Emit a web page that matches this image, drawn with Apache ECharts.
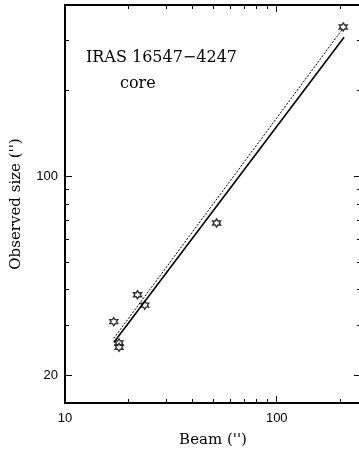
<!DOCTYPE html>
<html>
<head>
<meta charset="utf-8">
<script src="https://cdn.jsdelivr.net/npm/echarts@6/dist/echarts.min.js"></script>
<style>
  html, body { margin: 0; padding: 0; background: #fff; }
  #chart { width: 359px; height: 451px; }
</style>
</head>
<body>
<div id="chart"></div>
<script>
// measured points (beam vs observed size, both in arcsec)
const beam = [17, 18, 18, 22, 23.8, 52, 206];
const obsSize = [30.9, 26.0, 25.1, 38.4, 35.3, 68.6, 335];

// fitted lines, end points
const fitSolid = [[17, 26.1], [208, 308]];
const fitDotted = [[17, 27.0], [203, 327]];

// ticks
const xMajor = [10, 100];
const xMinor = [20, 30, 40, 50, 60, 70, 80, 90, 200];
const yMajor = [20, 100];
const yMinor = [30, 40, 50, 60, 70, 80, 90, 200, 300];

const serif = 'DejaVu Serif';
const sans = 'Liberation Sans';

// six-pointed star outline
const starPath = 'path://M10 0L12.887 5L18.66 5L15.77 10L18.66 15L12.887 15L10 20L7.113 15L1.34 15L4.23 10L1.34 5L7.113 5Z';

function xAx(pos, ticks, len, labels) {
    return {
        type: 'log', logBase: 10, min: 10, max: 250, position: pos,
        name: labels ? "Beam ('')" : '',
        nameLocation: 'middle', nameGap: 30,
        nameTextStyle: { fontFamily: serif, fontSize: 15, color: '#000' },
        axisLine: { show: true, lineStyle: { color: '#000', width: 2 } },
        axisTick: { show: true, inside: true, length: len, customValues: ticks, lineStyle: { color: '#000', width: 1 } },
        axisLabel: labels ? { show: true, customValues: ticks, margin: 9, fontFamily: sans, fontSize: 13, color: '#000' } : { show: false },
        splitLine: { show: false }, minorTick: { show: false }
    };
}

function yAx(pos, ticks, len, labels) {
    return {
        type: 'log', logBase: 10, min: 16, max: 400, position: pos,
        name: labels ? "Observed size ('')" : '',
        nameLocation: 'middle', nameGap: 41,
        nameTextStyle: { fontFamily: serif, fontSize: 15, color: '#000' },
        axisLine: { show: true, lineStyle: { color: '#000', width: 2 } },
        axisTick: { show: true, inside: true, length: len, customValues: ticks, lineStyle: { color: '#000', width: 1 } },
        axisLabel: labels ? { show: true, customValues: ticks, margin: 7, fontFamily: sans, fontSize: 13, color: '#000' } : { show: false },
        splitLine: { show: false }, minorTick: { show: false }
    };
}

const chart = echarts.init(document.getElementById('chart'));
chart.setOption({
    animation: false,
    backgroundColor: '#fff',
    grid: { left: 65, top: 5, width: 296, height: 398, outerBoundsMode: 'none', containLabel: false },
    xAxis: [
        xAx('bottom', xMajor, 7, true),
        xAx('bottom', xMinor, 4, false),
        xAx('top', xMajor, 7, false),
        xAx('top', xMinor, 4, false)
    ],
    yAxis: [
        yAx('left', yMajor, 7, true),
        yAx('left', yMinor, 4, false),
        yAx('right', yMajor, 7, false),
        yAx('right', yMinor, 4, false)
    ],
    graphic: [
        { type: 'text', left: 86, top: 50, style: { text: 'IRAS 16547\u22124247', font: '16px "DejaVu Serif"', fill: '#000' } },
        { type: 'text', left: 120, top: 76, style: { text: 'core', font: '16px "DejaVu Serif"', fill: '#000' } }
    ],
    series: [
        {
            type: 'line', data: fitDotted, symbol: 'none',
            lineStyle: { color: '#000', width: 1, type: [2, 1.5] }
        },
        {
            type: 'line', data: fitSolid, symbol: 'none',
            lineStyle: { color: '#000', width: 1.6 }
        },
        {
            type: 'scatter', data: beam.map((b, i) => [b, obsSize[i]]),
            symbol: starPath, symbolSize: 8,
            itemStyle: { color: '#fff', borderColor: '#000', borderWidth: 1.4 }
        }
    ]
});
</script>
</body>
</html>
